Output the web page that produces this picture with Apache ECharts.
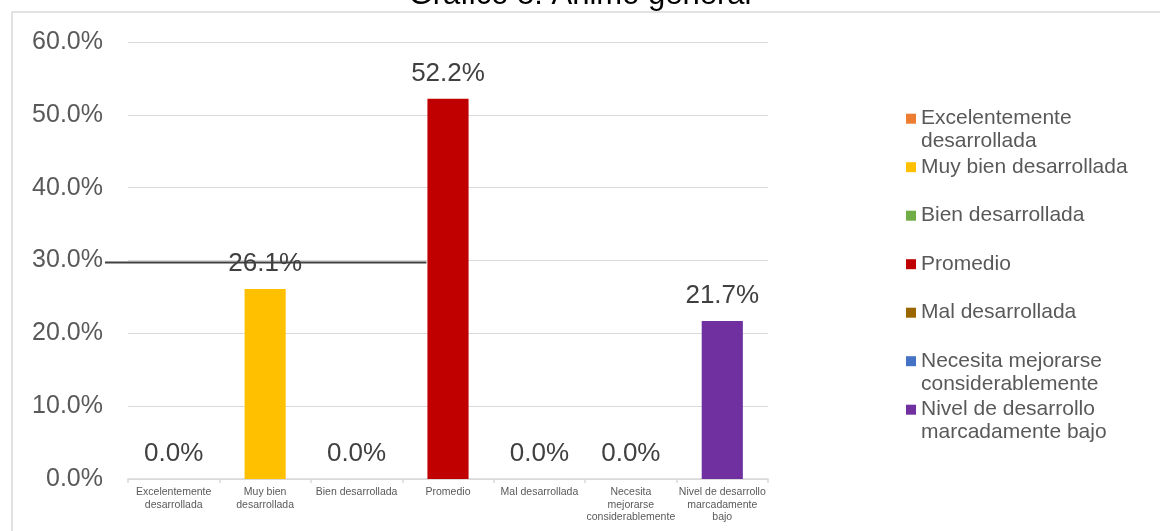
<!DOCTYPE html>
<html><head><meta charset="utf-8">
<script src="https://cdn.jsdelivr.net/npm/echarts@6/dist/echarts.min.js"></script>
<style>html,body{margin:0;padding:0;background:#fff}#c{width:1160px;height:531px}</style>
</head><body><div id="c"></div>
<script>
const titleText = 'Gráfico 8: Ánimo general';
const categories = ['Excelentemente\ndesarrollada', 'Muy bien\ndesarrollada', 'Bien desarrollada', 'Promedio', 'Mal desarrollada', 'Necesita\nmejorarse\nconsiderablemente', 'Nivel de desarrollo\nmarcadamente\nbajo'];
const seriesNames = ['Excelentemente desarrollada', 'Muy bien desarrollada', 'Bien desarrollada', 'Promedio', 'Mal desarrollada', 'Necesita mejorarse considerablemente', 'Nivel de desarrollo marcadamente bajo'];
const legendLabels = ['Excelentemente\ndesarrollada', 'Muy bien desarrollada', 'Bien desarrollada', 'Promedio', 'Mal desarrollada', 'Necesita mejorarse\nconsiderablemente', 'Nivel de desarrollo\nmarcadamente bajo'];
const values = [0.0, 26.1, 0.0, 52.2, 0.0, 0.0, 21.7];
const colors = ['#ED7D31', '#FFC000', '#70AD47', '#C00000', '#996600', '#4472C4', '#7030A0'];
const yTicks = [0, 10, 20, 30, 40, 50, 60];

const FONT = '"Liberation Sans", Arial, sans-serif';
const chart = echarts.init(document.getElementById('c'));

const legends = legendLabels.map((lab, i) => {
  const two = lab.indexOf('\n') >= 0;
  const center = 118.7 + i * 48.5;
  // two-line labels get an empty leading line so the first line sits beside the icon
  const shown = two ? '\n' + lab : lab;
  return {
    data: [seriesNames[i]],
    orient: 'vertical',
    left: 906,
    top: center - (two ? 34.5 : 11.5),
    padding: 0,
    itemGap: 0,
    itemWidth: 10,
    itemHeight: 10,
    icon: 'rect',
    selectedMode: false,
    formatter: () => shown,
    textStyle: {fontFamily: FONT, fontSize: 21, color: '#595959', lineHeight: 23}
  };
});

const option = {
  animation: false,
  backgroundColor: '#fff',
  title: {
    text: titleText, left: 'center', top: -25,
    textStyle: {fontFamily: FONT, fontSize: 31, fontWeight: 'normal', color: '#000'}
  },
  grid: {left: 128, right: 392, top: 42, bottom: 52},
  legend: legends,
  xAxis: {
    type: 'category', data: categories,
    axisLine: {lineStyle: {color: '#d9d9d9', width: 1.5}},
    axisTick: {show: true, length: 4, lineStyle: {color: '#d9d9d9', width: 1.5}},
    axisLabel: {interval: 0, fontFamily: FONT, fontSize: 10.5, lineHeight: 12.5, color: '#595959', margin: 7}
  },
  yAxis: {
    type: 'value', min: yTicks[0], max: yTicks[yTicks.length - 1], interval: yTicks[1] - yTicks[0],
    axisLine: {show: false}, axisTick: {show: false},
    splitLine: {lineStyle: {color: '#d9d9d9', width: 1.2}},
    axisLabel: {formatter: v => v.toFixed(1) + '%', fontFamily: FONT, fontSize: 25, color: '#595959', margin: 25}
  },
  series: seriesNames.map((n, i) => ({
    name: n, type: 'bar', stack: 'all', barWidth: '45%',
    itemStyle: {color: colors[i]},
    data: values.map((v, j) => (j === i ? v : '-')),
    label: {
      show: true, position: 'top', distance: 12,
      formatter: p => Number(p.value).toFixed(1) + '%',
      fontFamily: FONT, fontSize: 26, color: '#404040'
    }
  }))
};
chart.setOption(option);

const y30 = chart.convertToPixel({yAxisIndex: 0}, yTicks[3]);
const xProm = chart.convertToPixel({xAxisIndex: 0}, 3);
const catW = chart.convertToPixel({xAxisIndex: 0}, 1) - chart.convertToPixel({xAxisIndex: 0}, 0);
chart.setOption({
  graphic: [
    {type: 'rect', silent: true, shape: {x: 12, y: 12, width: 1200, height: 600},
     style: {fill: 'none', stroke: '#d9d9d9', lineWidth: 1.5}, z: -1},
    {type: 'line', silent: true, shape: {x1: 128 - 23, y1: y30 + 2, x2: xProm - catW * 0.225 - 1, y2: y30 + 2},
     style: {stroke: '#404040', lineWidth: 2}, z: 100}
  ]
});
</script>
</body></html>
